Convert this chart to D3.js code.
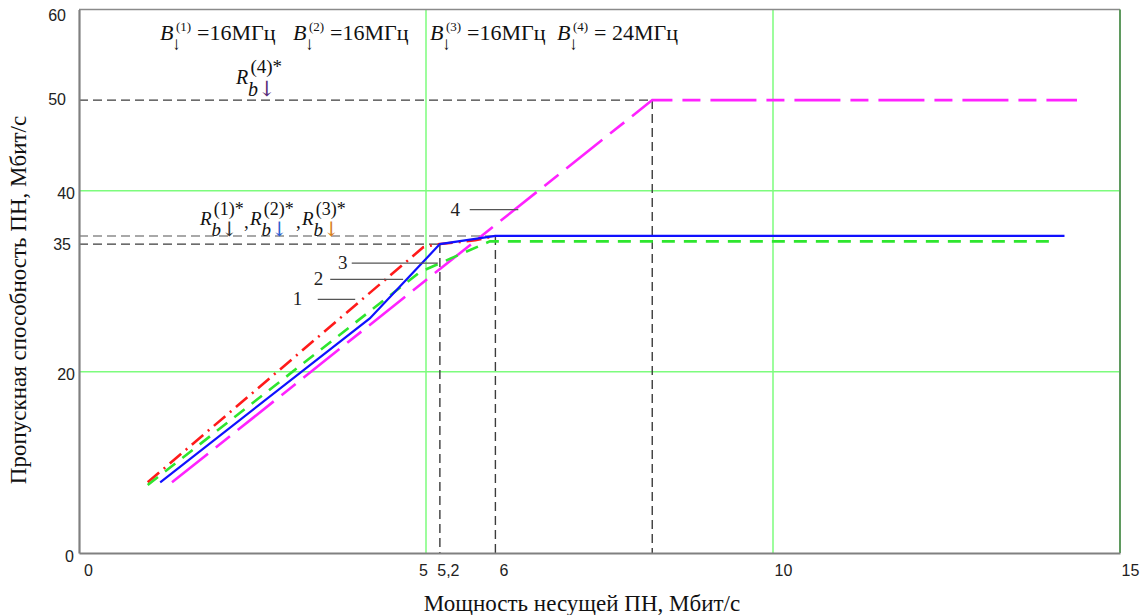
<!DOCTYPE html>
<html>
<head>
<meta charset="utf-8">
<script src="https://cdn.jsdelivr.net/npm/d3@7"></script>
<style>
  body { margin: 0; background: #fff; }
  svg { display: block; }
</style>
</head>
<body>
<svg id="chart" width="1142" height="615"></svg>
<script>
// ---- data ----
const xDomain = [0, 15];
const yDomain = [0, 60];
const xGridValues = [5, 10];
const yGridValues = [20, 40];
const xTickValues = [0, 5, 5.2, 6, 10, 15];
const xTickLabels = ["0", "5", "5,2", "6", "10", "15"];
const yTickValues = [0, 20, 35, 40, 50, 60];
const yTickLabels = ["0", "20", "35", "40", "50", "60"];

// curve 1 (red, dash-dot)
const curve1X = [0.99, 4.96, 5.16, 5.71, 6.0];
const curve1Y = [7.8, 33.75, 34.08, 34.52, 35.0];
// curve 2 (green, dashed)
const curve2X = [0.99, 4.91, 5.35, 5.92, 14.0];
const curve2Y = [7.5, 31.0, 32.5, 34.4, 34.4];
// curve 3 (blue, solid)
const curve3X = [1.17, 4.19, 5.2, 6.0, 14.2];
const curve3Y = [7.8, 25.9, 34.1, 35.0, 35.0];
// curve 4 (magenta, long dash)
const curve4X = [1.34, 8.26, 14.38];
const curve4Y = [7.8, 50.0, 50.0];

// reference markers (rate limits and the carrier power they are reached at)
const markerX = [5.2, 6.0, 8.26];
const markerY = [34.1, 35.0, 50.0];

// curve number labels with leader lines
const curveNames = ["1", "2", "3", "4"];
const curveLabelX = [3.15, 3.45, 3.80, 5.42];
const leaderX0 = [3.44, 3.62, 3.93, 5.63];
const leaderX1 = [3.98, 4.67, 5.17, 6.33];
const leaderY = [28.0, 30.2, 32.0, 37.9];

// bandwidth annotations
const bandIndex = ["(1)", "(2)", "(3)", "(4)"];
const bandValue = ["=16МГц", "=16МГц", "=16МГц", "= 24МГц"];
const bandX = [1.167, 3.084, 5.058, 6.888];
const bandY = 56.6;

// rate annotations
const rateIdx = ["(1)", "(2)", "(3)"];
const rateX = [1.744, 2.464, 3.213];
const rateY = 36.2;

const xTitle = "Мощность несущей ПН, Мбит/с";
const yTitle = "Пропускная способность ПН, Мбит/с";

// ---- layout ----
const svg = d3.select("#chart");
const x = d3.scaleLinear().domain(xDomain).range([79, 1120]);
const y = d3.scaleLinear().domain(yDomain).range([553, 9.5]);
const serif = "'Liberation Serif', 'Times New Roman', serif";
const sans = "'Liberation Sans', Arial, sans-serif";
const arrowFont = "'DejaVu Serif', serif";

// grid
svg.append("g").selectAll("line").data(xGridValues).join("line")
  .attr("x1", d => x(d)).attr("x2", d => x(d))
  .attr("y1", y(60)).attr("y2", y(0))
  .attr("stroke", "#7dfc7d").attr("stroke-width", 1.5);
svg.append("g").selectAll("line").data(yGridValues).join("line")
  .attr("x1", x(0)).attr("x2", x(15))
  .attr("y1", d => y(d)).attr("y2", d => y(d))
  .attr("stroke", "#7dfc7d").attr("stroke-width", 1.5);

// frame: top and right
svg.append("line").attr("x1", x(0)).attr("x2", x(15)).attr("y1", y(60)).attr("y2", y(60))
  .attr("stroke", "#8a8a8a").attr("stroke-width", 1.5);
svg.append("line").attr("x1", x(15)).attr("x2", x(15)).attr("y1", y(60)).attr("y2", y(0))
  .attr("stroke", "#5f9a5f").attr("stroke-width", 2);

// marker lines
const mk = svg.append("g").attr("fill", "none").attr("stroke-width", 1.4).attr("stroke-dasharray", "9,5");
markerX.forEach((mx, i) => {
  const col = i === 1 ? "#8c8c8c" : "#3c3c3c";
  mk.append("line").attr("x1", x(0)).attr("x2", x(mx)).attr("y1", y(markerY[i])).attr("y2", y(markerY[i]))
    .attr("stroke", col);
  mk.append("line").attr("x1", x(mx)).attr("x2", x(mx)).attr("y1", y(markerY[i])).attr("y2", y(0))
    .attr("stroke", "#3c3c3c");
});

// curves
const line = d3.line().x(d => x(d[0])).y(d => y(d[1]));
const zip = (xs, ys) => xs.map((v, i) => [v, ys[i]]);
const curves = [
  { pts: zip(curve4X, curve4Y), color: "#ff22ff", dash: "46,10,18,10", w: 2.6 },
  { pts: zip(curve1X, curve1Y), color: "#ff1a1a", dash: "15,6,2,6", w: 2.6 },
  { pts: zip(curve2X, curve2Y), color: "#2ee62e", dash: "13,9", w: 2.6 },
  { pts: zip(curve3X, curve3Y), color: "#1010ff", dash: null, w: 2.2 }
];
curves.forEach(c => {
  svg.append("path").attr("d", line(c.pts)).attr("fill", "none")
    .attr("stroke", c.color).attr("stroke-width", c.w)
    .attr("stroke-dasharray", c.dash);
});

// axes
const xAxis = d3.axisBottom(x).tickValues(xTickValues).tickSize(0)
  .tickFormat((d, i) => xTickLabels[i]);
const gx = svg.append("g").attr("transform", `translate(0,${y(0)})`).call(xAxis);
gx.select(".domain").attr("stroke", "#808080").attr("stroke-width", 2.2);
const xLabelShift = { "0": 9, "5": -3, "5,2": 8, "6": 8, "10": 10, "15": 10 };
gx.selectAll(".tick text")
  .attr("font-family", sans).attr("font-size", 16).attr("fill", "#222")
  .attr("dy", "1.25em")
  .attr("dx", (d, i) => xLabelShift[xTickLabels[i]]);

const yAxis = d3.axisLeft(y).tickValues(yTickValues).tickSize(0)
  .tickFormat((d, i) => yTickLabels[i]);
const gy = svg.append("g").attr("transform", `translate(${x(0)},0)`).call(yAxis);
gy.select(".domain").attr("stroke", "#808080").attr("stroke-width", 2.2);
const yLabelShift = { "0": [-2, 3], "20": [-1, 3], "35": [-5, 9], "40": [-1, 3], "50": [-10, -1], "60": [-10, 6] };
gy.selectAll(".tick text")
  .attr("font-family", sans).attr("font-size", 16).attr("fill", "#222")
  .attr("dx", (d, i) => yLabelShift[yTickLabels[i]][0])
  .attr("dy", (d, i) => 5 + yLabelShift[yTickLabels[i]][1]);

// axis titles
svg.append("text").attr("x", 582).attr("y", 611).attr("text-anchor", "middle")
  .attr("font-family", serif).attr("font-size", 23).attr("fill", "#111").text(xTitle);
svg.append("text").attr("transform", "translate(26,300) rotate(-90)").attr("text-anchor", "middle")
  .attr("font-family", serif).attr("font-size", 23).attr("fill", "#111").text(yTitle);

// curve number labels
curveNames.forEach((n, i) => {
  svg.append("line").attr("x1", x(leaderX0[i])).attr("x2", x(leaderX1[i]))
    .attr("y1", y(leaderY[i])).attr("y2", y(leaderY[i]))
    .attr("stroke", "#555").attr("stroke-width", 1.2);
  svg.append("text").attr("x", x(curveLabelX[i])).attr("y", y(leaderY[i]) + 6)
    .attr("text-anchor", "middle").attr("font-family", serif).attr("font-size", 19)
    .attr("fill", "#222").text(n);
});

// bandwidth annotation: B with down arrow subscript and index superscript
function drawBand(px, py, idx, val) {
  const g = svg.append("g").attr("font-family", serif).attr("fill", "#111");
  g.append("text").attr("x", px).attr("y", py).attr("font-size", 22)
    .attr("font-style", "italic").text("B");
  g.append("text").attr("x", px + 16).attr("y", py - 9).attr("font-size", 13).text(idx);
  g.append("text").attr("x", px + 12).attr("y", py + 10).attr("font-size", 15)
    .attr("font-family", arrowFont).attr("transform", `translate(${px + 12},${py + 10}) scale(0.7,1) translate(${-(px + 12)},${-(py + 10)})`)
    .text("↓");
  g.append("text").attr("x", px + 37).attr("y", py).attr("font-size", 22).text(val);
}
bandIndex.forEach((b, i) => drawBand(x(bandX[i]), y(bandY), b, bandValue[i]));

// rate annotation: R with b-arrow subscript and index superscript
function drawRate(px, py, idx, arrowColor, size, lead) {
  const g = svg.append("g").attr("font-family", serif).attr("fill", "#111");
  if (lead) g.append("text").attr("x", px - 6).attr("y", py + 3).attr("font-size", size).text(",");
  g.append("text").attr("x", px).attr("y", py).attr("font-size", size)
    .attr("font-style", "italic").text("R");
  g.append("text").attr("x", px + size * 0.72).attr("y", py - size * 0.55)
    .attr("font-size", size - 1).text(idx + "*");
  const sub = g.append("text").attr("x", px + size * 0.6).attr("y", py + size * 0.6)
    .attr("font-size", size);
  sub.append("tspan").attr("font-style", "italic").text("b");
  sub.append("tspan").attr("fill", arrowColor).attr("font-family", arrowFont)
    .attr("font-size", size * 1.05).text("↓");
}
drawRate(x(2.262), y(51.8), "(4)", "#5b2f7a", 20, false);
const arrowCols = ["#333", "#2d5fd0", "#d7801a"];
rateIdx.forEach((r, i) => drawRate(x(rateX[i]), y(rateY), r, arrowCols[i], 19, i > 0));
</script>
</body>
</html>
